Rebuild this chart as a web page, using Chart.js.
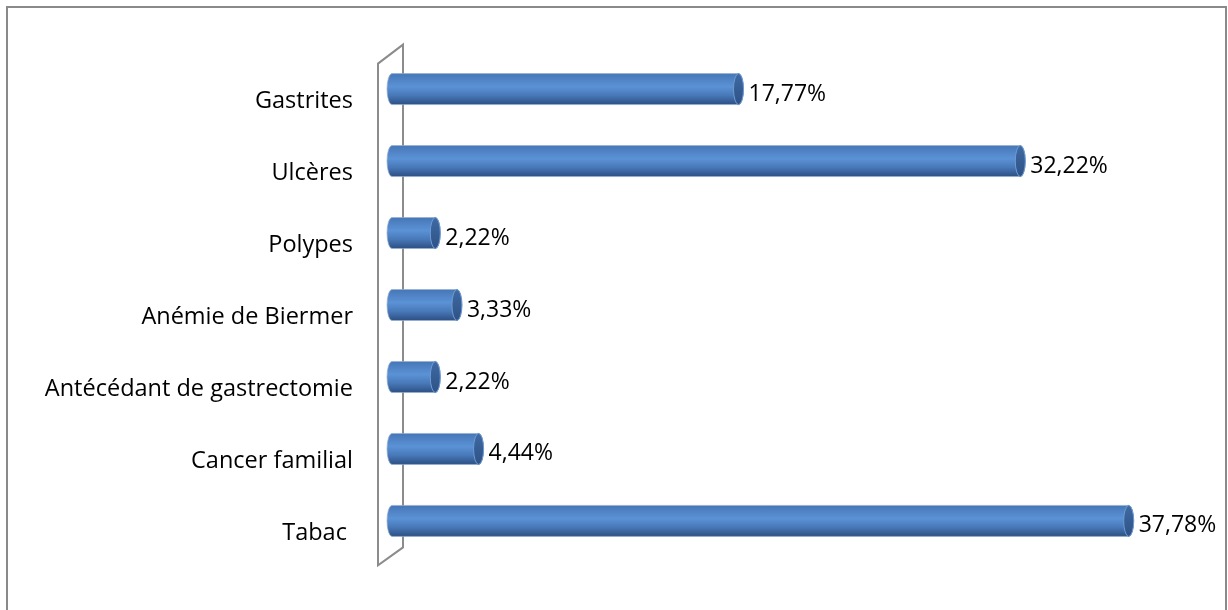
<!DOCTYPE html>
<html>
<head>
<meta charset="utf-8">
<script src="https://cdn.jsdelivr.net/npm/chart.js@4.4.1/dist/chart.umd.min.js"></script>
<style>
  body { margin: 0; background: #fff; }
  canvas { display: block; }
</style>
</head>
<body>
<canvas id="myChart" width="1228" height="610"></canvas>
<script>
var categories = [
  "Gastrites",
  "Ulcères",
  "Polypes",
  "Anémie de Biermer",
  "Antécédant de gastrectomie",
  "Cancer familial",
  "Tabac ",
];
var values = [17.77, 32.22, 2.22, 3.33, 2.22, 4.44, 37.78];
var xMin = 0;
var xMax = 40;

const FONT = "'Open Sans'";
const CAP_RX = 5;

function fmtValue(v) {
  return v.toFixed(2).replace(".", ",") + "%";
}

// gray frame around the whole figure
const framePlugin = {
  id: "frame",
  beforeDraw(chart) {
    const ctx = chart.ctx;
    ctx.save();
    ctx.fillStyle = "#fff";
    ctx.fillRect(0, 0, chart.width, chart.height);
    ctx.strokeStyle = "#8a8a8a";
    ctx.lineWidth = 2;
    ctx.strokeRect(7, 7, chart.width - 9, chart.height + 10);
    ctx.restore();
  },
};

// slanted 3d wall behind the category axis
const wallPlugin = {
  id: "wall",
  beforeDatasetsDraw(chart) {
    const a = chart.chartArea;
    const ctx = chart.ctx;
    const fx = a.left - 14,
      bx = a.left + 11;
    ctx.save();
    ctx.strokeStyle = "#8c8c8c";
    ctx.lineWidth = 2;
    ctx.beginPath();
    ctx.moveTo(fx, a.bottom + 8.5);
    ctx.lineTo(fx, a.top + 10.5);
    ctx.lineTo(bx, a.top - 8.5);
    ctx.lineTo(bx, a.bottom - 9.5);
    ctx.closePath();
    ctx.stroke();
    ctx.restore();
  },
};

// bars as horizontal cylinders
const cylinderPlugin = {
  id: "cylinders",
  afterDatasetsDraw(chart) {
    const ctx = chart.ctx;
    const meta = chart.getDatasetMeta(0);
    ctx.save();
    meta.data.forEach(function (bar, i) {
      const x = bar.x,
        base = bar.base,
        y = bar.y,
        ry = bar.height / 2;
      const top = y - ry,
        bottom = y + ry;

      const g = ctx.createLinearGradient(0, top, 0, bottom);
      g.addColorStop(0, "#4677b7");
      g.addColorStop(0.42, "#5b92d6");
      g.addColorStop(0.7, "#4879b9");
      g.addColorStop(1, "#2c5083");

      ctx.beginPath();
      ctx.ellipse(base, y, CAP_RX, ry, 0, Math.PI / 2, (3 * Math.PI) / 2);
      ctx.lineTo(x, top);
      ctx.ellipse(x, y, CAP_RX, ry, 0, -Math.PI / 2, Math.PI / 2);
      ctx.closePath();
      ctx.fillStyle = g;
      ctx.fill();
      ctx.strokeStyle = "rgba(150,175,210,0.7)";
      ctx.lineWidth = 1;
      ctx.stroke();

      // end cap
      const cg = ctx.createLinearGradient(0, top, 0, bottom);
      cg.addColorStop(0, "#3f6aa3");
      cg.addColorStop(1, "#2e5286");
      ctx.beginPath();
      ctx.ellipse(x, y, CAP_RX, ry, 0, 0, Math.PI * 2);
      ctx.fillStyle = cg;
      ctx.fill();
      ctx.strokeStyle = "#6f9bd2";
      ctx.lineWidth = 1;
      ctx.stroke();

      // value label
      ctx.fillStyle = "#000";
      ctx.font = "23px " + FONT;
      ctx.textAlign = "left";
      ctx.textBaseline = "middle";
      ctx.fillText(fmtValue(values[i]), x + CAP_RX + 5, y + 5);
    });
    ctx.restore();
  },
};

const data = {
  labels: categories,
  datasets: [
    {
      data: values,
      backgroundColor: "rgba(0,0,0,0)",
      borderWidth: 0,
      barThickness: 31,
    },
  ],
};

const config = {
  type: "bar",
  data: data,
  options: {
    indexAxis: "y",
    responsive: false,
    animation: false,
    layout: {
      padding: { left: 0, right: 56, top: 51, bottom: 40 },
    },
    plugins: {
      legend: { display: false },
      tooltip: { enabled: false },
    },
    scales: {
      x: {
        display: false,
        min: xMin,
        max: xMax,
      },
      y: {
        grid: { display: false, drawTicks: false },
        border: { display: false },
        ticks: {
          color: "#000",
          font: { family: FONT, size: 23.5 },
          padding: 39,
          labelOffset: 12,
          autoSkip: false,
        },
        afterFit: function (scale) {
          scale.width = 392;
        },
      },
    },
  },
  plugins: [framePlugin, wallPlugin, cylinderPlugin],
};

const myChart = new Chart(document.getElementById("myChart"), config);
</script>
</body>
</html>
